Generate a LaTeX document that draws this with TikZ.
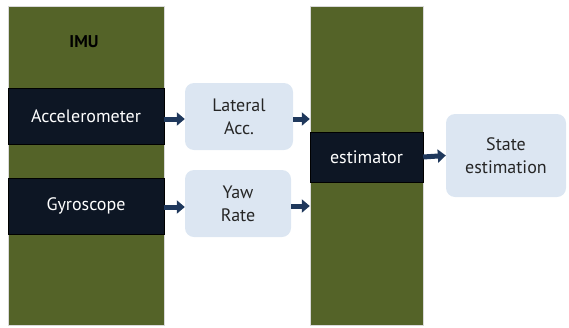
\documentclass[tikz,border=0pt]{standalone}
\usepackage{fontspec}
\setmainfont{PT Sans}
\usetikzlibrary{arrows.meta}
\definecolor{olive}{RGB}{84,99,40}
\definecolor{navy}{RGB}{13,22,36}
\definecolor{pale}{RGB}{220,230,242}
\definecolor{arrowblue}{RGB}{31,56,92}
\begin{document}
\begin{tikzpicture}[x=1pt,y=-1pt,
    panel/.style={draw=black!15,fill=olive,minimum width=#1,minimum height=319pt,inner sep=0pt},
    sensor/.style={draw=black,fill=navy,text=white,minimum height=56pt,inner sep=0pt,font=\fontsize{18}{22}\selectfont},
    signal/.style={fill=pale,rounded corners=9pt,align=center,inner sep=0pt,text=black!85,font=\fontsize{18}{23}\selectfont},
    flow/.style={arrowblue,line width=5pt,-{Triangle[length=8pt,width=13pt]}}]
  \useasboundingbox (0,0) rectangle (569,327);
  % helper grid
  % \draw[help lines,step=10] (0,0) grid (569,327);

  % % panels
  \node[panel=156pt] (imu) at (86,165.5) {};
  \node[panel=113pt] (estpanel) at (366.5,165.5) {};
  \node[font=\fontsize{17}{20}\selectfont\bfseries] (imulabel) at (84,42) {IMU};

  % % sensors
  \node[sensor,minimum width=156pt] (acc) at (86,116) {Accelerometer};
  \node[sensor,minimum width=156pt] (gyro) at (86,206) {Gyroscope};
  \node[sensor,minimum width=113pt,minimum height=50pt] (est) at (366.5,157) {estimator};

  % % signals
  \node[signal,minimum width=108pt,minimum height=67pt] (lat) at (239,116.5) {Lateral\\Acc.};
  \node[signal,minimum width=106pt,minimum height=67pt] (yaw) at (238,203.5) {Yaw\\Rate};
  \node[signal,minimum width=120pt,minimum height=83pt] (state) at (506,155.5) {State\\estimation};

  % % arrows
  \draw[flow] (acc.east |- 0,119) -- (lat.west |- 0,119);
  \draw[flow] (gyro.east |- 0,207) -- (yaw.west |- 0,207);
  \draw[flow] (lat.east |- 0,119) -- (estpanel.west |- 0,119);
  \draw[flow] (yaw.east |- 0,206) -- (estpanel.west |- 0,206);
  \draw[flow] (est.east) -- (state.west);

\end{tikzpicture}
\end{document}
